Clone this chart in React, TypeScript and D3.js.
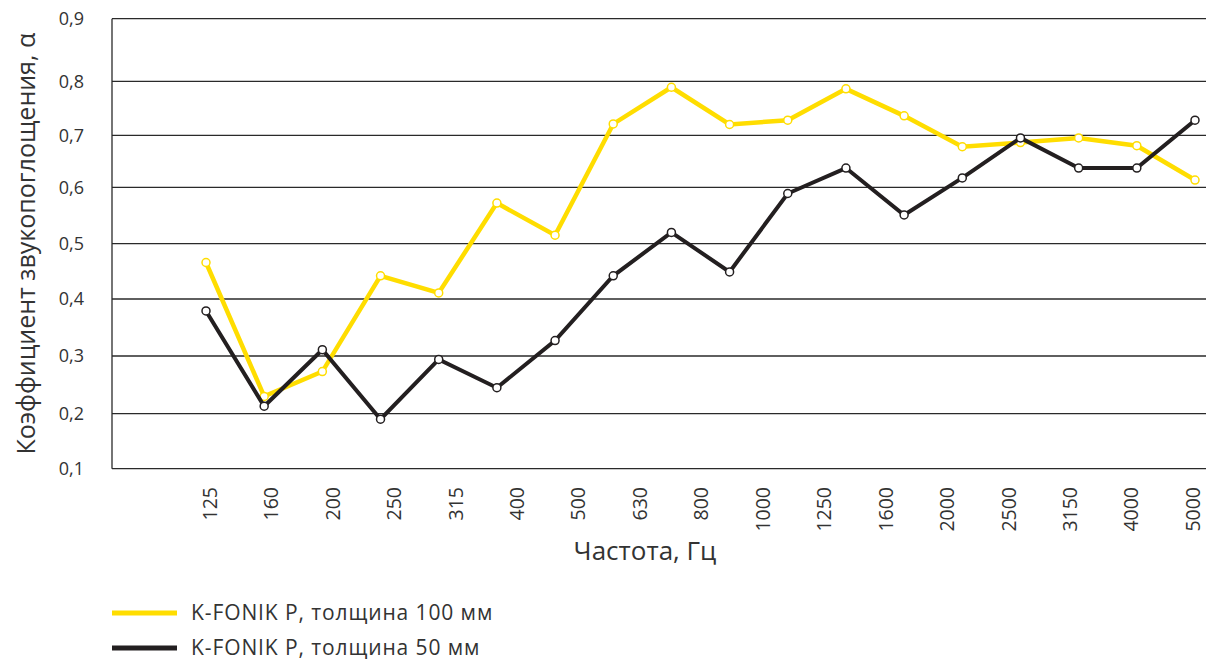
import { useMemo } from "react";
import * as d3 from "d3";

// третьоктавные полосы (точки данных)
const bands = [100, 125, 160, 200, 250, 315, 400, 500, 630, 800, 1000, 1250, 1600, 2000, 2500, 3150, 4000, 5000];
// подписи оси X
const tickLabels = ["125", "160", "200", "250", "315", "400", "500", "630", "800", "1000", "1250", "1600", "2000", "2500", "3150", "4000", "5000"];
const yTicks = [0.1, 0.2, 0.3, 0.4, 0.5, 0.6, 0.7, 0.8, 0.9];

const thick100 = [0.466, 0.23, 0.273, 0.442, 0.411, 0.572, 0.515, 0.721, 0.789, 0.72, 0.728, 0.786, 0.736, 0.678, 0.686, 0.695, 0.68, 0.614];
const thick50 = [0.379, 0.213, 0.311, 0.19, 0.294, 0.245, 0.327, 0.442, 0.52, 0.449, 0.589, 0.637, 0.551, 0.618, 0.695, 0.637, 0.637, 0.728];

const series = [
  { name: "K-FONIK P, толщина 100 мм", values: thick100, color: "#ffdd00", width: 4.5 },
  { name: "K-FONIK P, толщина 50 мм", values: thick50, color: "#231f20", width: 4 },
];

const W = 1206;
const H = 660;
const left = 112;
const right = 1206;
const font = "'Open Sans', 'Noto Sans', sans-serif";
// шаги сетки на исходной картинке чуть неравномерные
const yStops = [468.7, 413.7, 356, 299, 243.7, 187.3, 135.3, 81.3, 18.7];

const App = () => {
  const x = useMemo(() => d3.scalePoint<number>().domain(bands).range([206, 1195]), []);
  const xt = useMemo(() => d3.scalePoint<string>().domain(tickLabels).range([210, 1193]), []);
  const y = useMemo(() => d3.scaleLinear().domain(yTicks).range(yStops), []);
  const fmt = (v: number) => d3.format(".1f")(v).replace(".", ",");
  const top = y(0.9);
  const bottom = y(0.1);

  const line = d3
    .line<number>()
    .x((_, i) => x(bands[i]) as number)
    .y((d) => y(d));

  return (
    <svg width={W} height={H} style={{ position: "absolute", left: 0, top: 0, background: "#fff" }} fontFamily={font}>
      {/* сетка */}
      {yTicks.map((t) => (
        <line key={t} x1={left} x2={right} y1={y(t)} y2={y(t)} stroke="#2a2a2a" strokeWidth={1.3} />
      ))}
      <line x1={left} x2={left} y1={top} y2={bottom} stroke="#2a2a2a" strokeWidth={1.3} />

      {/* подписи оси Y */}
      {yTicks.map((t) => (
        <text key={t} x={84} y={y(t)} dy="0.35em" textAnchor="end" fontSize={18} fill="#333">
          {fmt(t)}
        </text>
      ))}
      <text
        transform={`translate(35,${(top + bottom) / 2}) rotate(-90)`}
        textAnchor="middle"
        fontSize={25}
        fill="#333"
      >
        Коэффициент звукопоглощения, α
      </text>

      {/* подписи оси X */}
      {tickLabels.map((t) => (
        <text
          key={t}
          transform={`translate(${xt(t)},487) rotate(-90)`}
          textAnchor="end"
          dy="0.35em"
          fontSize={19.5}
          fill="#333"
        >
          {t}
        </text>
      ))}
      <text x={645} y={560} textAnchor="middle" fontSize={26} fill="#333">
        Частота, Гц
      </text>

      {/* линии */}
      {series.map((s) => (
        <g key={s.name}>
          <path d={line(s.values) ?? ""} fill="none" stroke={s.color} strokeWidth={s.width} strokeLinejoin="miter" />
          {s.values.map((v, i) => (
            <circle key={i} cx={x(bands[i])} cy={y(v)} r={4} fill="#fff" stroke={s.color} strokeWidth={1.5} />
          ))}
        </g>
      ))}

      {/* легенда */}
      {series.map((s, i) => (
        <g key={s.name} transform={`translate(112,${613 + i * 35})`}>
          <line x1={0} x2={65} y1={0} y2={0} stroke={s.color} strokeWidth={5} />
          <text x={79} y={0} dy="0.35em" fontSize={21} letterSpacing={0.9} fill="#333">
            {s.name}
          </text>
        </g>
      ))}
    </svg>
  );
};

export default App;
